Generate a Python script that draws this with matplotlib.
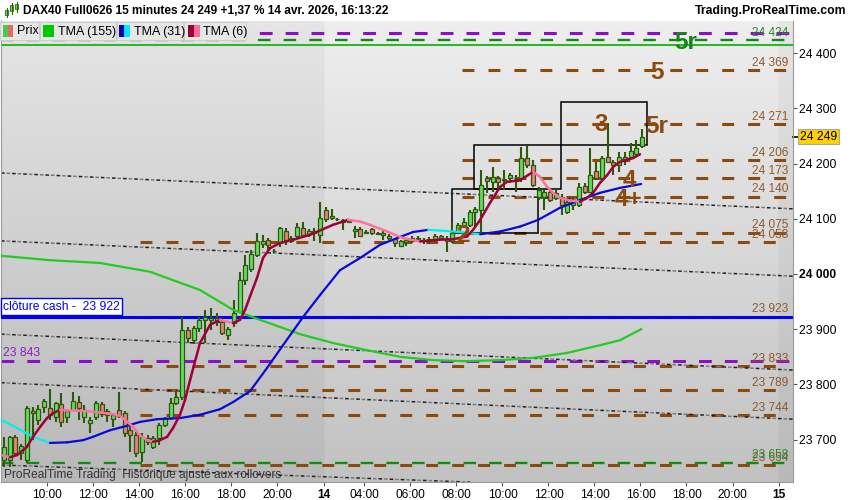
import numpy as np
import matplotlib
matplotlib.use("Agg")
import matplotlib.pyplot as plt
from matplotlib.patches import Rectangle
from matplotlib.collections import LineCollection
from matplotlib.lines import Line2D

plt.rcParams['font.family'] = ['Liberation Sans', 'DejaVu Sans']
plt.rcParams['lines.scale_dashes'] = False

# ---------------- data ----------------
# 15-minute candles, 13 avr. 08:00 -> 14 avr. 16:00 (consecutive bars)
opens = [23663, 23663, 23705, 23676, 23663, 23752, 23736, 23759, 23757, 23741,
         23764, 23741, 23754, 23768, 23741, 23730, 23741, 23764, 23745, 23738,
         23754, 23748, 23717, 23708, 23678, 23703, 23687, 23703, 23726, 23739,
         23766, 23777, 23899, 23880, 23902, 23917, 23917, 23920, 23913, 23889,
         23911, 23931, 23989, 24009, 24034, 24054, 24062, 24042, 24058, 24077,
         24059, 24068, 24084, 24072, 24074, 24071, 24116, 24101, 24100, 24094,
         24095, 24078, 24082, 24075, 24082, 24074, 24075, 24065, 24063, 24051,
         24058, 24060, 24065, 24059, 24059, 24062, 24069, 24063, 24059, 24077,
         24087, 24089, 24113, 24116, 24174, 24167, 24174, 24170, 24173, 24170,
         24174, 24210, 24197, 24140, 24140, 24149, 24138, 24140, 24113, 24125,
         24125, 24159, 24149, 24187, 24173, 24212, 24202, 24197, 24212, 24212,
         24217, 24231]
highs = [23705, 23707, 23708, 23692, 23761, 23759, 23763, 23774, 23792, 23768,
         23784, 23755, 23786, 23779, 23763, 23741, 23770, 23768, 23755, 23748,
         23786, 23752, 23730, 23714, 23712, 23708, 23707, 23730, 23741, 23775,
         23790, 23923, 23904, 23906, 23922, 23935, 23938, 23929, 23920, 23904,
         23953, 24004, 24034, 24043, 24074, 24071, 24065, 24045, 24086, 24083,
         24069, 24092, 24094, 24082, 24083, 24131, 24121, 24118, 24101, 24100,
         24096, 24087, 24085, 24080, 24083, 24076, 24078, 24072, 24065, 24062,
         24065, 24069, 24069, 24065, 24067, 24072, 24071, 24068, 24092, 24092,
         24101, 24116, 24122, 24188, 24178, 24194, 24178, 24188, 24183, 24179,
         24230, 24231, 24206, 24158, 24152, 24154, 24152, 24145, 24134, 24139,
         24165, 24165, 24228, 24203, 24214, 24273, 24207, 24221, 24221, 24237,
         24243, 24262]
lows = [23650, 23650, 23672, 23663, 23658, 23699, 23726, 23748, 23736, 23732,
        23723, 23730, 23752, 23736, 23730, 23712, 23736, 23741, 23732, 23723,
        23739, 23705, 23678, 23668, 23659, 23690, 23683, 23690, 23723, 23736,
        23763, 23772, 23875, 23873, 23895, 23875, 23899, 23906, 23889, 23880,
        23904, 23929, 23980, 24004, 24031, 24047, 24043, 24038, 24049, 24053,
        24056, 24065, 24067, 24067, 24060, 24056, 24094, 24098, 24096, 24080,
        24093, 24065, 24067, 24072, 24071, 24070, 24062, 24062, 24049, 24049,
        24051, 24056, 24058, 24054, 24054, 24058, 24062, 24040, 24056, 24074,
        24083, 24086, 24086, 24074, 24147, 24149, 24152, 24152, 24165, 24149,
        24167, 24192, 24158, 24134, 24116, 24130, 24134, 24107, 24109, 24116,
        24121, 24145, 24147, 24170, 24170, 24201, 24179, 24185, 24197, 24210,
        24212, 24228]
closes = [23687, 23705, 23676, 23688, 23757, 23748, 23755, 23770, 23745, 23766,
          23732, 23752, 23770, 23757, 23754, 23736, 23766, 23746, 23752, 23745,
          23743, 23712, 23708, 23676, 23705, 23696, 23703, 23726, 23739, 23766,
          23777, 23899, 23884, 23902, 23917, 23922, 23920, 23913, 23893, 23900,
          23929, 23989, 24016, 24036, 24059, 24059, 24053, 24041, 24083, 24062,
          24065, 24086, 24071, 24077, 24078, 24101, 24100, 24105, 24099, 24098,
          24094, 24082, 24068, 24076, 24074, 24073, 24071, 24069, 24056, 24060,
          24062, 24065, 24064, 24062, 24063, 24069, 24065, 24059, 24075, 24089,
          24094, 24113, 24118, 24161, 24169, 24176, 24167, 24171, 24179, 24169,
          24210, 24197, 24161, 24152, 24149, 24134, 24147, 24125, 24131, 24134,
          24158, 24149, 24179, 24174, 24210, 24203, 24197, 24212, 24207, 24223,
          24228, 24249]

# moving averages (time in session hours, value)
tma155_t = [0, 2.13, 4.30, 6.48, 8.65, 10.09, 11.26, 13.0, 14.43, 15.91, 17.35,
            18.78, 20.26, 21.70, 23.13, 24.61, 26.04, 26.91, 27.83]
tma155_v = [24033, 24025, 24020, 24004, 23971, 23935, 23917, 23891, 23875, 23862,
            23850, 23844, 23842, 23844, 23848, 23857, 23871, 23880, 23900]
tma31_t = [0, 0.70, 1.39, 2.13, 2.87, 3.57, 4.0, 4.74, 5.48, 6.04, 6.78, 7.78,
           8.65, 9.52, 10.09, 10.83, 11.57, 12.26, 13.13, 13.87, 14.74, 15.61,
           16.48, 17.22, 17.91, 18.57, 19.30, 19.96, 20.83, 21.70, 22.57, 23.35,
           24.30, 25.17, 26.04, 26.91, 27.83]
tma31_v = [23736, 23721, 23705, 23694, 23695, 23699, 23705, 23717, 23725, 23732,
           23737, 23739, 23745, 23755, 23768, 23788, 23830, 23871, 23922, 23962,
           24007, 24029, 24053, 24065, 24076, 24080, 24078, 24076, 24072, 24077,
           24086, 24098, 24120, 24134, 24147, 24156, 24163]
tma6_t = [0, 0.39, 0.70, 1.13, 1.39, 1.70, 2.0, 2.26, 2.57, 2.87, 3.43, 3.87,
          4.30, 4.74, 5.17, 5.39, 5.74, 6.04, 6.35, 6.61, 6.91, 7.22, 7.48, 7.78,
          8.0, 8.22, 8.65, 9.09, 9.52, 10.09, 10.39, 10.61, 10.83, 11.13, 11.39,
          11.70, 12.13, 12.70, 13.43, 14.43, 14.87, 15.09, 15.61, 16.04, 16.78,
          17.48, 18.22, 18.96, 19.65, 20.26, 20.52, 20.83, 21.26, 21.70, 22.0,
          22.57, 23.13, 23.43, 23.74, 24.0, 24.30, 24.74, 25.17, 25.48, 25.74,
          26.04, 26.35, 26.61, 26.91, 27.22, 27.48, 27.78]
tma6_v = [23672, 23668, 23672, 23687, 23705, 23723, 23739, 23748, 23754, 23753,
          23752, 23751, 23749, 23747, 23743, 23736, 23723, 23708, 23699, 23696,
          23699, 23705, 23721, 23745, 23772, 23808, 23875, 23908, 23917, 23911,
          23917, 23935, 23960, 23993, 24029, 24047, 24056, 24062, 24071, 24089,
          24095, 24098, 24095, 24089, 24077, 24065, 24059, 24062, 24063, 24068,
          24080, 24098, 24129, 24158, 24167, 24170, 24185, 24176, 24158, 24147,
          24138, 24133, 24131, 24138, 24147, 24165, 24179, 24194, 24203, 24207,
          24210, 24217]

# horizontal levels
brown_levels = [24369, 24271, 24206, 24173, 24140, 24075, 24058,
                23923, 23833, 23789, 23744, 23654]
brown_start = [20.04, 20.04, 20.04, 20.04, 20.04, 20.04, 6.04,
               6.04, 6.04, 6.04, 6.04, 6.04]
green_levels = [24424, 23658]
purple_levels = [24437, 23843]
green_solid_level = 24415
cash_close = 23922

# dotted trend lines: (t0, p0, t1, p1)
trend_lines = [(0, 24183, 34.43, 24118),
               (0, 24060, 34.43, 23996),
               (0, 23891, 34.43, 23826),
               (0, 23803, 34.43, 23737),
               (0, 23654, 20.4, 23623)]

# boxes: (t0, t1, p0, p1)
boxes = [(19.61, 23.35, 24074, 24154),
         (20.57, 24.35, 24154, 24234),
         (24.35, 28.09, 24234, 24312)]

# wave labels: (text, t, price, colour)
wave_labels = [("2", 20.09, 24075, "brown"), ("3", 26.09, 24275, "brown"),
               ("4", 27.30, 24173, "brown"), ("4+", 27.26, 24140, "brown"),
               ("5", 28.52, 24369, "brown"), ("5r", 28.52, 24271, "brown"),
               ("5r", 29.78, 24424, "green")]

xtick_pos = [2, 4, 6, 8, 10, 12, 14.05, 15.8, 17.8, 19.8, 21.8, 23.8, 25.8,
             27.8, 29.8, 31.8, 33.8]
xtick_labels = ["10:00", "12:00", "14:00", "16:00", "18:00", "20:00", "14",
                "04:00", "06:00", "08:00", "10:00", "12:00", "14:00", "16:00",
                "18:00", "20:00", "15"]
ytick_vals = [23700, 23800, 23900, 24000, 24100, 24200, 24300, 24400]
last_price = 24249

title = "DAX40 Full0626 15 minutes 24 249 +1,37 % 14 avr. 2026, 16:13:22"

# ---------------- figure ----------------
W, H = 850, 500
fig = plt.figure(figsize=(W / 100, H / 100), dpi=100, facecolor="white")
ax = fig.add_axes([1 / W, 18 / H, 792 / W, 461 / H])
XMIN, XMAX = 0.0, 34.43
YMIN, YMAX = 23623.2, 24458.3
ax.set_xlim(XMIN, XMAX)
ax.set_ylim(YMIN, YMAX)

# background gradient with day shading
cols = np.linspace(XMIN, XMAX, 700)
rows = np.linspace(0, 1, 200)
base = 0.935 - 0.175 * rows[:, None]
shade = np.where((cols < 14.05) | (cols > 33.8), -0.035, 0.0)[None, :]
g = np.clip(base + shade, 0, 1)
img = np.dstack([g, g, g])
ax.imshow(img, extent=[XMIN, XMAX, YMIN, YMAX], aspect="auto", zorder=0,
          interpolation="bilinear", origin="upper")

BROWN = "#8b4a10"
BROWN_TXT = "#8c5b30"
GREEN_D = "#138a13"
PURPLE = "#8a10c8"

# horizontal dashed levels
for lv, st in zip(brown_levels, brown_start):
    ax.plot([st, 34.2], [lv, lv], color=BROWN, lw=2.2, dashes=(8.6, 10.1), zorder=1.5,
            solid_capstyle="butt", dash_capstyle="butt")
for lv in green_levels:
    ax.plot([XMIN, XMAX], [lv, lv], color=GREEN_D, lw=1.7, dashes=(9, 9.5), zorder=1.6,
            dash_capstyle="butt")
for lv in purple_levels:
    ax.plot([XMIN, XMAX], [lv, lv], color=PURPLE, lw=2.2, dashes=(9.2, 9.4), zorder=1.7,
            dash_capstyle="butt")
ax.plot([XMIN, XMAX], [green_solid_level] * 2, color="#2fb52f", lw=1.5, zorder=1.7)
ax.plot([XMIN, XMAX], [cash_close] * 2, color="#0000ff", lw=2.2, zorder=2.8)

# trend lines (alternating black / grey dashes)
for t0, p0, t1, p1 in trend_lines:
    ax.plot([t0, t1], [p0, p1], color="#222222", lw=1.1, dashes=(2.6, 5.4), zorder=1.8)
    ax.plot([t0, t1], [p0, p1], color="#7a7a7a", lw=1.1, dashes=(0, 4, 2.6, 1.4), zorder=1.8)

# boxes
for t0, t1, p0, p1 in boxes:
    ax.add_patch(Rectangle((t0, p0), t1 - t0, p1 - p0, fill=False, ec="black",
                           lw=1.1, zorder=2.5))

# candles
o = np.array(opens, float); h = np.array(highs, float)
l = np.array(lows, float); c = np.array(closes, float)
bt = 0.125 + 0.25 * np.arange(len(o))
EDGE = "#2d5a0a"
ax.vlines(bt, l, h, color=EDGE, lw=1.5, zorder=3)
up = c >= o
bottom = np.minimum(o, c)
height = np.maximum(np.abs(c - o), 1.2)
ax.bar(bt[up], height[up], bottom=bottom[up], width=0.175, color="#5fdf5f",
       edgecolor=EDGE, linewidth=0.9, zorder=3.2)
ax.bar(bt[~up], height[~up], bottom=bottom[~up], width=0.175, color="#ef7f7f",
       edgecolor=EDGE, linewidth=0.9, zorder=3.2)


def slope_line(tt, vv, up_col, dn_col, lw, z):
    tt = np.asarray(tt, float); vv = np.asarray(vv, float)
    segs = [[(tt[i], vv[i]), (tt[i + 1], vv[i + 1])] for i in range(len(tt) - 1)]
    colors = [up_col if vv[i + 1] >= vv[i] else dn_col for i in range(len(tt) - 1)]
    lc = LineCollection(segs, colors=colors, linewidths=lw, zorder=z, capstyle="round")
    ax.add_collection(lc)


ax.plot(tma155_t, tma155_v, color="#22cc22", lw=1.6, zorder=4)
slope_line(tma31_t, tma31_v, "#0a0ad8", "#00f0f0", 1.6, 4.1)
slope_line(tma6_t, tma6_v, "#a0003a", "#ff70a0", 1.8, 4.2)

# wave labels
for txt, tx, py, col in wave_labels:
    ax.text(tx, py, txt, color=(BROWN if col == "brown" else "#118811"), fontsize=17.5,
            fontweight="bold", ha="center", va="center_baseline", zorder=5)


def fmt(v):
    return f"{int(v):,}".replace(",", " ")


# right-side level labels
label_x = 34.22
for lv in brown_levels:
    ax.annotate(fmt(lv), xy=(label_x, lv), xytext=(0, 1), textcoords="offset points",
                ha="right", va="bottom", fontsize=8.6, color=BROWN_TXT, zorder=1.9,
                annotation_clip=False)
for lv in green_levels:
    ax.annotate(fmt(lv), xy=(label_x, lv), xytext=(0, 1), textcoords="offset points",
                ha="right", va="bottom", fontsize=8.6, color="#2a8a2a", zorder=1.9,
                annotation_clip=False)

# left labels
ax.annotate("clôture cash -  " + fmt(cash_close), xy=(0.09, cash_close), xytext=(0, 3.2),
            textcoords="offset points", ha="left", va="bottom", fontsize=8.7,
            color="#0000ff", zorder=6,
            bbox=dict(boxstyle="square,pad=0.18", fc="white", ec="#0000ff", lw=1.0))
ax.annotate(fmt(purple_levels[1]), xy=(0.09, purple_levels[1]), xytext=(0, 1.2),
            textcoords="offset points", ha="left", va="bottom", fontsize=8.7,
            color="#8a20c0", zorder=6)
ax.text(0.004, 0.016, "ProRealTime Trading  Historique ajusté aux rollovers",
        transform=ax.transAxes, fontsize=8.6, color="#333333", ha="left", va="center",
        zorder=6)

# axes styling
for s in ["left", "bottom", "right"]:
    ax.spines[s].set_color("#9a9a9a")
    ax.spines[s].set_linewidth(0.8)
ax.spines["top"].set_visible(False)
ax.yaxis.tick_right()
ax.set_yticks(ytick_vals)
ax.set_yticklabels([fmt(v) for v in ytick_vals])
ax.tick_params(axis="y", direction="out", length=3, pad=1.5, labelsize=8.7,
               color="#555555", labelcolor="black")
ax.set_xticks(xtick_pos)
ax.set_xticklabels(xtick_labels)
ax.tick_params(axis="x", direction="out", length=3, pad=2, labelsize=8.6,
               color="#555555", labelcolor="black")
for lab in ax.get_xticklabels():
    if ":" not in lab.get_text():
        lab.set_fontweight("bold")
for lab in ax.get_yticklabels():
    if lab.get_text() == "24 000":
        lab.set_fontweight("bold")

# last price tag
ytr = ax.get_yaxis_transform()
ax.add_line(Line2D([1.0, 1.006], [last_price, last_price], transform=ytr, color="black",
                   lw=1.2, clip_on=False))
ax.text(1.0085, last_price, fmt(last_price), transform=ytr, ha="left", va="center",
        fontsize=8.7, color="black", zorder=7, clip_on=False,
        bbox=dict(boxstyle="square,pad=0.15", fc="#ffd200", ec="#a8a8a8", lw=0.8))


# ---------------- header & legend (figure pixels) ----------------
def fx(px):
    return px / W


def fy(py):
    return 1 - py / H


fig.text(fx(23), fy(11), title, fontsize=8.55, fontweight="bold", ha="left",
         va="center", color="black")
fig.text(fx(846), fy(11), "Trading.ProRealTime.com", fontsize=8.8, fontweight="bold",
         ha="right", va="center", color="black")

# tiny candle icon
for (x0, yb, yt, wb, wt) in [(5, 10, 15, 8, 17), (10, 5, 11, 3, 14), (15, 4, 9, 2, 12)]:
    fig.add_artist(Line2D([fx(x0 + 1.5)] * 2, [fy(wt), fy(wb)], color="#2d6a0a", lw=0.8))
    fig.add_artist(Rectangle((fx(x0), fy(yt)), fx(3), fy(yb) - fy(yt), fc="#5fdf5f",
                             ec="#2d6a0a", lw=0.6))

cells = [(0, 39), (40, 116), (117, 183), (184, 246)]
for a, b in cells:
    fig.add_artist(Rectangle((fx(a), fy(40)), fx(b - a), fy(22) - fy(40), fc="#e6e6e6",
                             ec="#cdcdcd", lw=0.7, zorder=8))
swatches = [[(3, 8, "#4cc84c"), (8, 13, "#e06a6a")],
            [(43, 54, "#00c800")],
            [(119, 124, "#0000c8"), (124, 130, "#00e8ff")],
            [(188, 194, "#99003a"), (194, 200, "#ff6a9a")]]
for sw in swatches:
    for a, b, col in sw:
        fig.add_artist(Rectangle((fx(a), fy(37)), fx(b - a), fy(25) - fy(37), fc=col,
                                 ec="none", zorder=9))
for txt, px in [("Prix", 17), ("TMA (155)", 58), ("TMA (31)", 134), ("TMA (6)", 203)]:
    fig.text(fx(px), fy(31.5), txt, fontsize=9, ha="left", va="center", color="black",
             zorder=10)

fig.savefig("out.png", dpi=100, facecolor="white")
